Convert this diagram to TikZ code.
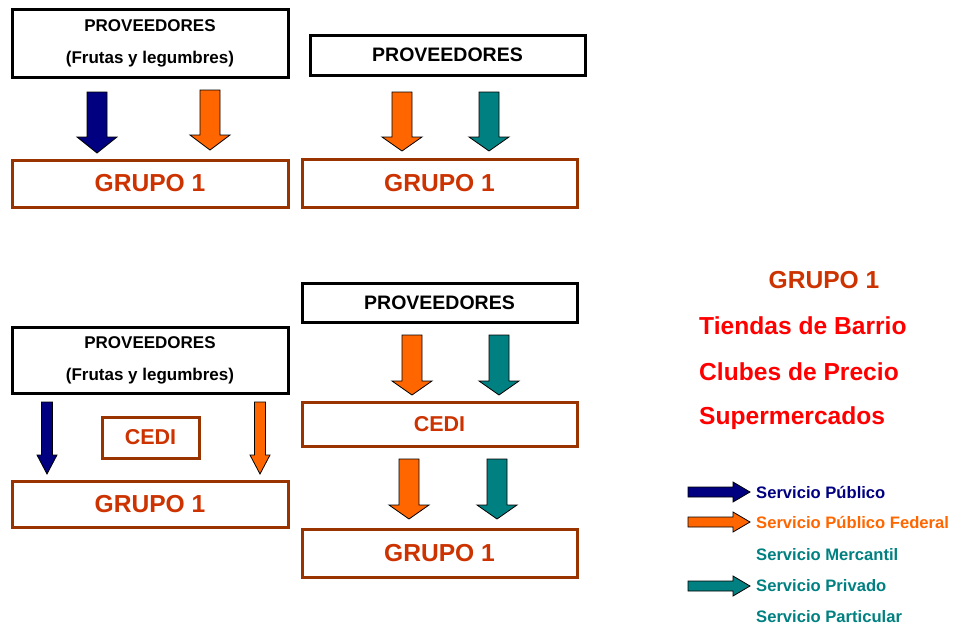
\documentclass[tikz,border=0pt]{standalone}
\usepackage{fontspec}
\setmainfont{Liberation Sans}
\usepackage{tikz}
\usetikzlibrary{positioning}

\definecolor{cafe}{HTML}{993300}
\definecolor{grupotxt}{HTML}{CC3300}
\definecolor{azulsp}{HTML}{000080}
\definecolor{naranjasp}{HTML}{FF6600}
\definecolor{verdesp}{HTML}{008080}
\definecolor{rojoleg}{HTML}{FF0000}

\tikzset{
  provbox/.style={draw=black, line width=3pt, fill=white, align=center, inner sep=0pt},
  grupobox/.style={draw=cafe, line width=3pt, fill=white, inner sep=0pt, text=grupotxt,
    font=\fontsize{24.6}{28}\selectfont\bfseries},
  legtxt/.style={anchor=west, inner sep=0pt, font=\fontsize{16.6}{19}\selectfont\bfseries},
  bigtxt/.style={anchor=west, inner sep=0pt, text=rojoleg, font=\fontsize{24.6}{28}\selectfont\bfseries}
}

% block arrow pointing down: cx, top, head, tip, shaft half, head half, colour
\newcommand{\flechaabajo}[7]{%
  \draw [fill=#7, line width=0.8pt] (#1-#5,#2) -- (#1+#5,#2) -- (#1+#5,#3) -- (#1+#6,#3)
    -- (#1,#4) -- (#1-#6,#3) -- (#1-#5,#3) -- cycle;}
% block arrow pointing right: left, head, tip, cy, colour
\newcommand{\flechader}[5]{%
  \draw [fill=#5, line width=0.8pt] (#1,#4-5) -- (#2,#4-5) -- (#2,#4-10) -- (#3,#4)
    -- (#2,#4+10) -- (#2,#4+5) -- (#1,#4+5) -- cycle;}

\begin{document}
\begin{tikzpicture}[x=1pt, y=-1pt]
  \useasboundingbox (0,0) rectangle (953,627);

  % Top left
  \node [provbox, minimum width=276pt, minimum height=68pt, font=\fontsize{17}{32}\selectfont\bfseries]
    (provA) at (150,43) {PROVEEDORES\\(Frutas y legumbres)};
  \node [grupobox, minimum width=276pt, minimum height=47pt] (grupoA) at (150,183.5) {GRUPO 1};
  \flechaabajo{97}{92}{137}{153}{10}{20}{azulsp}
  \flechaabajo{210}{90}{135}{150}{10}{20}{naranjasp}

  % Top right
  \node [provbox, minimum width=275pt, minimum height=40pt, font=\fontsize{19.5}{23}\selectfont\bfseries]
    (provB) at (447.5,55) {PROVEEDORES};
  \node [grupobox, minimum width=275pt, minimum height=48pt] (grupoB) at (439.5,183) {GRUPO 1};
  \flechaabajo{402}{92}{137}{151}{10}{20}{naranjasp}
  \flechaabajo{489}{92}{137}{151}{10}{20}{verdesp}

  % Bottom left
  \node [provbox, minimum width=276pt, minimum height=66pt, font=\fontsize{17}{32}\selectfont\bfseries]
    (provC) at (150,360) {PROVEEDORES\\(Frutas y legumbres)};
  \node [grupobox, minimum width=97pt, minimum height=41pt, font=\fontsize{21.5}{25}\selectfont\bfseries]
    (cediC) at (150.5,437.5) {CEDI};
  \node [grupobox, minimum width=276pt, minimum height=46pt] (grupoC) at (150,504) {GRUPO 1};
  \flechaabajo{47}{402}{455}{474}{5.5}{10}{azulsp}
  \flechaabajo{260}{402}{455}{474}{5.5}{10}{naranjasp}

  % Bottom right
  \node [provbox, minimum width=275pt, minimum height=39pt, font=\fontsize{19.5}{23}\selectfont\bfseries]
    (provD) at (439.5,302.5) {PROVEEDORES};
  \node [grupobox, minimum width=275pt, minimum height=44pt, font=\fontsize{21.5}{25}\selectfont\bfseries]
    (cediD) at (439.5,424) {CEDI};
  \node [grupobox, minimum width=275pt, minimum height=48pt] (grupoD) at (439.5,553) {GRUPO 1};
  \flechaabajo{412}{335}{381}{395}{10}{20}{naranjasp}
  \flechaabajo{499}{335}{381}{395}{10}{20}{verdesp}
  \flechaabajo{409}{459}{505}{519}{10}{20}{naranjasp}
  \flechaabajo{497}{459}{505}{519}{10}{20}{verdesp}

  % Group list
  \node [inner sep=0pt, text=grupotxt, font=\fontsize{24.6}{28}\selectfont\bfseries] (titG) at (824,280) {GRUPO 1};
  \node [bigtxt] (tiendas) at (699,326) {Tiendas de Barrio};
  \node [bigtxt] (clubes) at (699,372) {Clubes de Precio};
  \node [bigtxt] (super) at (699,418) {Supermercados};

  % Legend
  \flechader{688}{733}{750}{492}{azulsp}
  \flechader{688}{733}{750}{522}{naranjasp}
  \flechader{688}{733}{750}{586}{verdesp}
  \node [legtxt, text=azulsp] (lpub) at (756,492) {Servicio Público};
  \node [legtxt, text=naranjasp] (lfed) at (756,522) {Servicio Público Federal};
  \node [legtxt, text=verdesp] (lmer) at (756,555) {Servicio Mercantil};
  \node [legtxt, text=verdesp] (lpri) at (756,586) {Servicio Privado};
  \node [legtxt, text=verdesp] (lpar) at (756,617) {Servicio Particular};
\end{tikzpicture}
\end{document}
